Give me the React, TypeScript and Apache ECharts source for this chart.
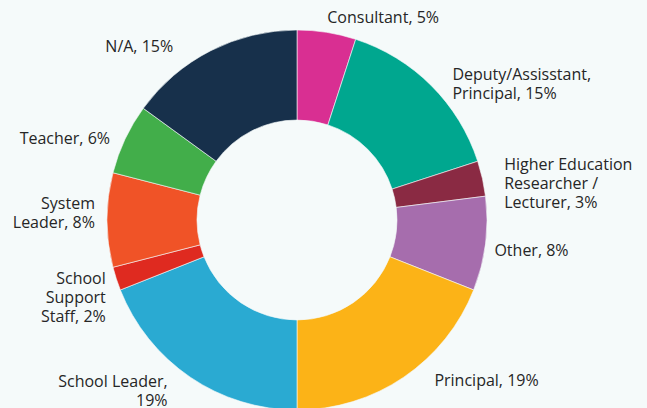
import React, { useEffect, useRef } from "react";
import * as echarts from "echarts";

const categories = [
  "Consultant",
  "Deputy/Assisstant, Principal",
  "Higher Education Researcher / Lecturer",
  "Other",
  "Principal",
  "School Leader",
  "School Support Staff",
  "System Leader",
  "Teacher",
  "N/A",
];
const values = [5, 15, 3, 8, 19, 19, 2, 8, 6, 15];
const wrappedNames = [
  "Consultant, ",
  "Deputy/Assisstant,\nPrincipal, ",
  "Higher Education\nResearcher /\nLecturer, ",
  "Other, ",
  "Principal, ",
  "School Leader,\n",
  "School\nSupport\nStaff, ",
  "System\nLeader, ",
  "Teacher, ",
  "N/A, ",
];
const colors = [
  "#d92f92",
  "#00a78f",
  "#8a2a43",
  "#a66dad",
  "#fcb317",
  "#2aaad2",
  "#df2a20",
  "#f05327",
  "#42ae4a",
  "#17304b",
];
// label nudges (dx, dy) relative to ECharts' default outside placement
const labelNudge = [
  [-1, -5],
  [14, 5],
  [12, 7],
  [-1, 5],
  [25, -5],
  [-17, 5],
  [-1, 15],
  [-2, -8],
  [-6, 3],
  [-33, 4],
];

export default function App() {
  const ref = useRef<HTMLDivElement>(null);
  useEffect(() => {
    if (!ref.current) return;
    const chart = echarts.init(ref.current, undefined, { renderer: "svg" });
    chart.setOption({
      animation: false,
      backgroundColor: "#f5fafa",
      series: [
        {
          type: "pie",
          center: [297, 220],
          radius: [100, 190],
          startAngle: 90,
          clockwise: true,
          avoidLabelOverlap: false,
          itemStyle: { borderColor: "#f5fafa", borderWidth: 0.6 },
          label: {
            show: true,
            position: "outside",
            fontFamily: "Open Sans",
            fontSize: 16,
            lineHeight: 19,
            color: "#262626",
            distanceToLabelLine: 0,
            formatter: (p: any) => `${wrappedNames[p.dataIndex]}${p.value}%`,
          },
          labelLine: { show: false, length: 10, length2: 0 },
          labelLayout: (p: any) => ({
            dx: labelNudge[p.dataIndex][0],
            dy: labelNudge[p.dataIndex][1],
          }),
          data: categories.map((c, i) => ({
            name: c,
            value: values[i],
            itemStyle: { color: colors[i] },
          })),
        },
      ],
    });
    return () => chart.dispose();
  }, []);
  return (
    <div
      ref={ref}
      style={{ position: "absolute", left: 0, top: 0, width: 647, height: 408 }}
    />
  );
}
